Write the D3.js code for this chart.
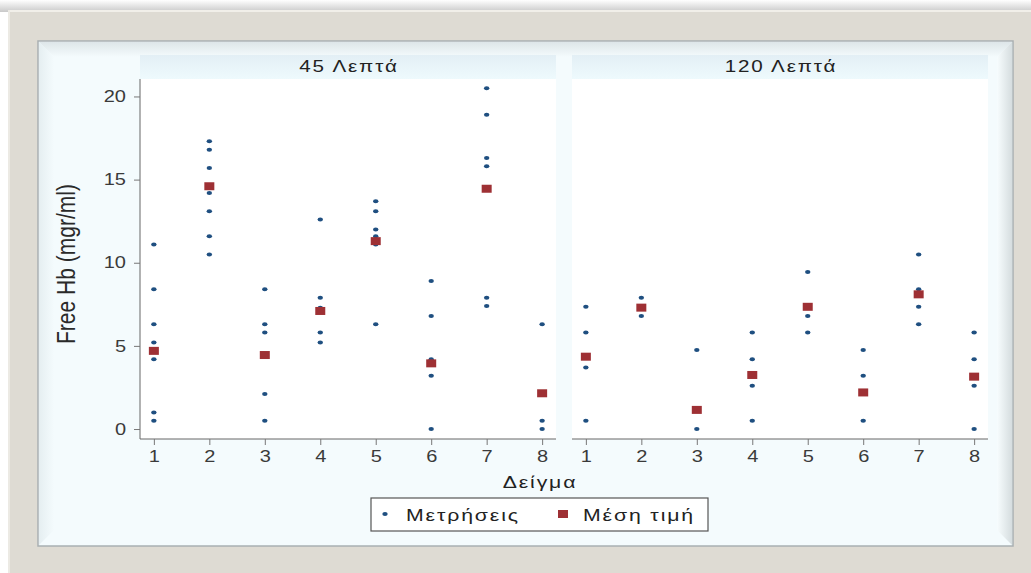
<!DOCTYPE html>
<html><head><meta charset="utf-8">
<script src="https://cdn.jsdelivr.net/npm/d3@7"></script>
<style>body{margin:0;background:#fff;}svg{display:block;font-family:Arial,"Liberation Sans",sans-serif;}</style>
</head><body>
<svg id="c" width="1031" height="573"></svg>
<script>
const samples = [1,2,3,4,5,6,7,8];
const panels = ["45 Λεπτά", "120 Λεπτά"];
const yTicks = [0,5,10,15,20];
// Measurements (Μετρήσεις) per sample
const meas45 = [
  [11.1, 8.4, 6.3, 5.2, 4.2, 1.0, 0.5],
  [17.3, 16.8, 15.7, 14.2, 13.1, 11.6, 10.5],
  [8.4, 6.3, 5.8, 2.1, 0.5],
  [12.6, 7.9, 7.3, 5.8, 5.2],
  [13.7, 13.1, 12.0, 11.6, 11.1, 6.3],
  [8.9, 6.8, 4.2, 4.0, 3.2, 0.0],
  [20.5, 18.9, 16.3, 15.8, 7.9, 7.4],
  [6.3, 0.5, 0.0]
];
const mean45 = [4.7, 14.6, 4.45, 7.1, 11.3, 3.95, 14.45, 2.15];
const meas120 = [
  [7.35, 5.8, 3.7, 0.5],
  [7.9, 6.8],
  [4.75, 0.0],
  [5.8, 4.2, 2.6, 0.5],
  [9.45, 6.8, 5.8],
  [4.75, 3.2, 0.5],
  [10.5, 8.4, 7.35, 6.3],
  [5.8, 4.2, 2.6, 0.0]
];
const mean120 = [4.35, 7.3, 1.15, 3.25, 7.35, 2.2, 8.1, 3.15];
const legendLabels = ["Μετρήσεις", "Μέση τιμή"];

const svg = d3.select("#c");
const defs = svg.append("defs");
function lin(id, x1, y1, x2, y2, c1, c2) {
  const g = defs.append("linearGradient").attr("id", id).attr("x1",x1).attr("y1",y1).attr("x2",x2).attr("y2",y2);
  g.append("stop").attr("offset","0").attr("stop-color",c1);
  g.append("stop").attr("offset","1").attr("stop-color",c2);
}
lin("hdr",0,0,0,1,"#e3eff5","#eefafd");
lin("shadowTop",0,0,0,1,"#ffffff","#c9c9c9");
lin("bevL",0,0,1,0,"#dfe9ec","#f4fbfd");
lin("bevR",1,0,0,0,"#c8d0d2","#f8fdfe");
lin("bevT",0,0,0,1,"#cfd8db","#f4fbfd");

// Stretched, letter-spaced text helper
function stext(parent, x, y, txt, size, sx, anchor) {
  return parent.append("g").attr("transform",`translate(${x},${y}) scale(${sx},1)`)
    .append("text").attr("text-anchor", anchor || "start").attr("font-size", size)
    .attr("letter-spacing", 1.5).attr("fill","#222").text(txt);
}

// Outer frame
svg.append("rect").attr("x",0).attr("y",0).attr("width",1031).attr("height",12).attr("fill","url(#shadowTop)");
svg.append("rect").attr("x",8).attr("y",10).attr("width",1030).attr("height",570).attr("fill","#dedbd3");
svg.append("line").attr("x1",8).attr("x2",1031).attr("y1",11).attr("y2",11).attr("stroke","#f1efe9").attr("stroke-width",2);
svg.append("line").attr("x1",9).attr("x2",9).attr("y1",10).attr("y2",573).attr("stroke","#eceae4").attr("stroke-width",2);
// Inner panel
svg.append("rect").attr("x",38).attr("y",41).attr("width",975).attr("height",505).attr("fill","#f4fbfd").attr("stroke","#a9b0b2").attr("stroke-width",1.5);
svg.append("path").attr("d","M39,42 L1012,42 L997,57 L54,57 Z").attr("fill","url(#bevT)").attr("opacity",0.6);
svg.append("path").attr("d","M39,42 L54,57 L54,530 L39,545 Z").attr("fill","url(#bevL)").attr("opacity",0.7);
svg.append("path").attr("d","M1012,42 L997,57 L997,530 L1012,545 Z").attr("fill","url(#bevR)").attr("opacity",0.7);

const yTop = 79, yBot = 439;
const y = d3.scaleLinear().domain([-0.6, 21.05]).range([yBot, yTop]);
const panelX = [[140, 556], [572, 988]];
const data = [[meas45, mean45], [meas120, mean120]];
const TSX = 1.25;

panels.forEach((title, pi) => {
  const [x0, x1] = panelX[pi];
  const x = d3.scaleLinear().domain([0.75, 8.25]).range([x0, x1]);
  const g = svg.append("g");
  g.append("rect").attr("x",x0).attr("y",yTop).attr("width",x1-x0).attr("height",yBot-yTop).attr("fill","#ffffff");
  g.append("rect").attr("x",x0).attr("y",55).attr("width",x1-x0).attr("height",yTop-55).attr("fill","url(#hdr)");
  stext(g, (x0+x1)/2 + 1, 72, title, 16.5, 1.25, "middle");
  // x axis
  const xa = g.append("g").attr("transform",`translate(0,${yBot})`)
    .call(d3.axisBottom(x).tickValues(samples).tickSize(6).tickPadding(6).tickFormat(d3.format("d")));
  xa.select(".domain").attr("stroke","#666").attr("d",`M${x0},0H${x1}`);
  xa.selectAll(".tick line").attr("stroke","#777");
  xa.selectAll(".tick text").attr("font-size",16).attr("fill","#3a3a3a")
    .attr("font-family","Arial, 'Liberation Sans', sans-serif").attr("transform",`scale(${TSX},1)`);
  if (pi === 0) {
    const ya = g.append("g").attr("transform",`translate(${x0},0)`)
      .call(d3.axisLeft(y).tickValues(yTicks).tickSize(6).tickPadding(4));
    ya.select(".domain").attr("stroke","#666").attr("d",`M0,${yTop}V${yBot}`);
    ya.selectAll(".tick line").attr("stroke","#777");
    ya.selectAll(".tick text").attr("font-size",16).attr("fill","#3a3a3a")
      .attr("font-family","Arial, 'Liberation Sans', sans-serif")
      .attr("x", -14 / TSX).attr("transform",`scale(${TSX},1)`);
  }
  const [meas, means] = data[pi];
  const pts = [];
  meas.forEach((arr, i) => arr.forEach(v => pts.push({s: samples[i], v})));
  g.selectAll("ellipse.m").data(pts).enter().append("ellipse")
    .attr("cx", d => x(d.s)).attr("cy", d => y(d.v)).attr("rx",2.7).attr("ry",2)
    .attr("fill","#1f4f80");
  g.selectAll("rect.mean").data(means).enter().append("rect")
    .attr("x",(d,i) => x(samples[i]) - 5).attr("y", d => y(d) - 4)
    .attr("width",10).attr("height",8).attr("fill","#9e3034");
});

// Axis titles
svg.append("g").attr("transform","translate(75,264) scale(1.4,1) rotate(-90)")
  .append("text").attr("text-anchor","middle")
  .attr("font-size",19).attr("fill","#2a2a2a").attr("textLength",160).attr("lengthAdjust","spacingAndGlyphs")
  .text("Free Hb (mgr/ml)");
stext(svg, 540, 488, "Δείγμα", 17, 1.25, "middle");

// Legend
const lg = svg.append("g");
lg.append("rect").attr("x",371).attr("y",498).attr("width",337).attr("height",33).attr("fill","#fff").attr("stroke","#555").attr("stroke-width",1.2);
lg.append("ellipse").attr("cx",385).attr("cy",514).attr("rx",2.7).attr("ry",2).attr("fill","#1f4f80");
stext(lg, 406, 520.5, legendLabels[0], 17, 1.25);
lg.append("rect").attr("x",558).attr("y",510).attr("width",10).attr("height",8).attr("fill","#9e3034");
stext(lg, 583, 520.5, legendLabels[1], 17, 1.25);
</script>
</body></html>
